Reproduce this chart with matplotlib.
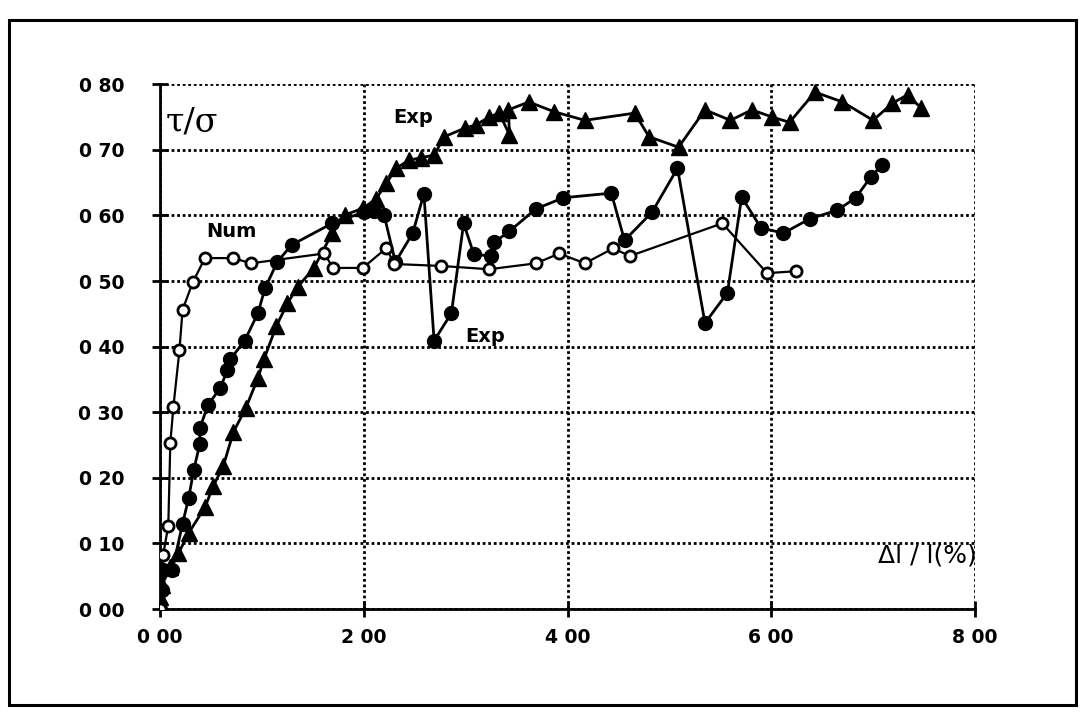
import matplotlib.pyplot as plt
from matplotlib.patches import Rectangle

# Num (open circles)
num_x = [0.0, 0.03, 0.08, 0.10, 0.13, 0.19, 0.22, 0.32, 0.44, 0.72, 0.89, 1.61, 1.70, 1.99,
         2.22, 2.30, 2.76, 3.23, 3.69, 3.92, 4.17, 4.45, 4.61, 5.52, 5.96, 6.24]
num_y = [0.0, 0.083, 0.127, 0.253, 0.308, 0.395, 0.456, 0.498, 0.535, 0.535, 0.527, 0.542,
         0.520, 0.520, 0.550, 0.526, 0.523, 0.518, 0.527, 0.542, 0.527, 0.550, 0.538, 0.588,
         0.512, 0.515]

# Exp (filled circles)
exp1_x = [0.0, 0.02, 0.03, 0.12, 0.22, 0.28, 0.33, 0.39, 0.39, 0.47, 0.59, 0.66, 0.69, 0.83,
          0.96, 1.03, 1.15, 1.29, 1.69, 2.00, 2.10, 2.20, 2.31, 2.48, 2.59, 2.69, 2.86, 2.98,
          3.08, 3.25, 3.28, 3.43, 3.69, 3.96, 4.43, 4.56, 4.83, 5.08, 5.35, 5.57, 5.71, 5.90,
          6.12, 6.38, 6.65, 6.83, 6.98, 7.09]
exp1_y = [0.0, 0.029, 0.060, 0.060, 0.130, 0.169, 0.212, 0.252, 0.276, 0.311, 0.337, 0.364,
          0.381, 0.409, 0.451, 0.489, 0.529, 0.555, 0.588, 0.605, 0.607, 0.600, 0.529, 0.573,
          0.633, 0.409, 0.451, 0.588, 0.541, 0.538, 0.559, 0.576, 0.610, 0.627, 0.634, 0.562,
          0.605, 0.672, 0.436, 0.482, 0.628, 0.581, 0.573, 0.595, 0.608, 0.627, 0.659, 0.677]

# Exp (filled triangles)
exp2_x = [0.0, 0.0, 0.02, 0.10, 0.18, 0.28, 0.44, 0.52, 0.62, 0.72, 0.84, 0.96, 1.02, 1.14,
          1.25, 1.35, 1.51, 1.69, 1.82, 1.99, 2.12, 2.22, 2.32, 2.44, 2.56, 2.69, 2.79, 2.99,
          3.10, 3.23, 3.33, 3.43, 3.42, 3.62, 3.87, 4.17, 4.66, 4.80, 5.09, 5.35, 5.60, 5.81,
          6.01, 6.18, 6.43, 6.70, 7.00, 7.19, 7.34, 7.47]
exp2_y = [0.003, 0.018, 0.037, 0.064, 0.085, 0.116, 0.155, 0.187, 0.218, 0.270, 0.306, 0.352,
          0.381, 0.431, 0.466, 0.491, 0.520, 0.573, 0.601, 0.611, 0.625, 0.649, 0.672, 0.684,
          0.688, 0.692, 0.720, 0.733, 0.738, 0.750, 0.756, 0.723, 0.761, 0.773, 0.758, 0.745,
          0.756, 0.720, 0.704, 0.761, 0.745, 0.761, 0.750, 0.742, 0.788, 0.773, 0.745, 0.771,
          0.784, 0.764]

x_ticks = [0, 2, 4, 6, 8]
x_labels = ['0 00', '2 00', '4 00', '6 00', '8 00']
y_ticks = [0.0, 0.1, 0.2, 0.3, 0.4, 0.5, 0.6, 0.7, 0.8]
y_labels = ['0 00', '0 10', '0 20', '0 30', '0 40', '0 50', '0 60', '0 70', '0 80']

fig = plt.figure(figsize=(10.82, 7.14), dpi=100)
fig.patches.append(Rectangle((0.008, 0.012), 0.986, 0.96, transform=fig.transFigure,
                             fill=False, edgecolor='black', linewidth=2.2))
ax = fig.add_axes([0.148, 0.147, 0.753, 0.735])

ax.plot(exp2_x, exp2_y, color='black', lw=2, marker='^', ms=12, mfc='black', mec='black', zorder=3)
ax.plot(exp1_x, exp1_y, color='black', lw=2, marker='o', ms=10, mfc='black', mec='black', zorder=4)
ax.plot(num_x, num_y, color='black', lw=1.6, marker='o', ms=8, mfc='white', mec='black', mew=2, zorder=5)

ax.set_xlim(0, 8)
ax.set_ylim(0, 0.8)
ax.set_xticks(x_ticks)
ax.set_xticklabels(x_labels)
ax.set_yticks(y_ticks)
ax.set_yticklabels(y_labels)
for lab in ax.get_xticklabels() + ax.get_yticklabels():
    lab.set_fontweight('bold')
    lab.set_fontsize(13.5)
ax.tick_params(direction='inout', length=12, width=2)
ax.tick_params(axis='y', pad=20)
ax.tick_params(axis='x', pad=8)

ax.grid(True, color='black', linestyle=(0, (1, 1)), linewidth=2)
ax.set_axisbelow(True)
ax.spines['left'].set_linewidth(2)
ax.spines['bottom'].set_linewidth(2)
ax.spines['top'].set_visible(False)
ax.spines['right'].set_visible(False)

ax.text(0.05, 0.742, 'τ/σ', fontsize=24, family='DejaVu Serif', va='center', ha='left')
ax.text(2.48, 0.75, 'Exp', fontsize=14, fontweight='bold', ha='center', va='center')
ax.text(0.70, 0.576, 'Num', fontsize=14, fontweight='bold', ha='center', va='center')
ax.text(3.19, 0.415, 'Exp', fontsize=14, fontweight='bold', ha='center', va='center')
ax.text(8.02, 0.082, 'Δl / l(%)', fontsize=18, ha='right', va='center')

fig.savefig('out.png', dpi=100)
